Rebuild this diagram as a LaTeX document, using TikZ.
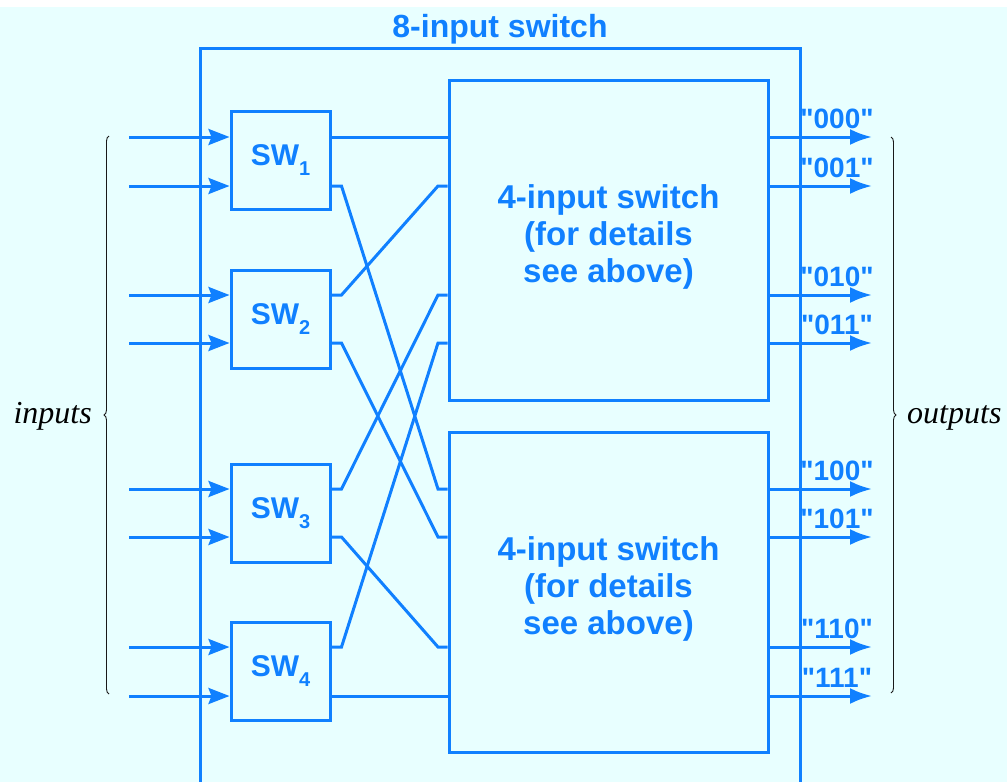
\documentclass[tikz,border=0pt]{standalone}
\usepackage{fontspec}
\newfontfamily\lsans{Liberation Sans}
\newfontfamily\lserif{Liberation Serif}
\usetikzlibrary{arrows.meta,decorations.pathreplacing}
\definecolor{sblue}{RGB}{16,128,255}
\definecolor{bgc}{RGB}{232,255,255}
\newcommand\swsub[1]{\raisebox{-10pt}{\fontsize{20}{20}\selectfont #1}}
\begin{document}
\begin{tikzpicture}[x=1pt,y=-1pt,
  wire/.style={draw=sblue, line width=3pt},
  swbox/.style={draw=sblue, line width=3pt, minimum width=99pt, minimum height=98pt, inner sep=0pt, text=sblue, font=\lsans\bfseries\fontsize{30}{30}\selectfont},
  bigbox/.style={draw=sblue, line width=3pt, minimum width=319pt, minimum height=320pt, inner sep=0pt},
  bigtext/.style={align=center, inner sep=0pt, text=sblue, font=\lsans\bfseries\fontsize{33}{37}\selectfont},
  lbl/.style={text=sblue, anchor=base, inner sep=0pt, font=\lsans\bfseries\fontsize{28}{28}\selectfont},
  ttl/.style={text=sblue, anchor=base, inner sep=0pt, font=\lsans\bfseries\fontsize{32}{32}\selectfont},
  side/.style={inner sep=0pt, font=\lserif\itshape\fontsize{32}{32}\selectfont},
  inarr/.style={wire, -{Stealth[length=21pt,width=16pt,inset=3pt]}},
  outarr/.style={wire, -{Latex[length=22pt,width=16pt]}},
  brc/.style={draw=black!90, line width=0.9pt, decorate, decoration={brace, amplitude=5pt}}
]
\useasboundingbox (0,0) rectangle (1007,782);
\fill[white] (0,0) rectangle (1007,782);
\fill[bgc] (0,7) rectangle (1007,782);

% rows
\coordinate (r1) at (0,137);
\coordinate (r2) at (0,186);
\coordinate (r3) at (0,295);
\coordinate (r4) at (0,343);
\coordinate (r5) at (0,489);
\coordinate (r6) at (0,537);
\coordinate (r7) at (0,647);
\coordinate (r8) at (0,696);

% outer frame
\coordinate (fbl) at (200,784);
\coordinate (ftl) at (200,48);
\coordinate (ftr) at (800,48);
\coordinate (fbr) at (800,784);
\draw[wire] (fbl) -- (ftl) -- (ftr) -- (fbr);
\node[ttl] (title) at (500,37) {8-input switch};

% switches
\node[swbox] (sw1) at (280.5,160) {SW\swsub{1}};
\node[swbox] (sw2) at (280.5,319) {SW\swsub{2}};
\node[swbox] (sw3) at (280.5,513) {SW\swsub{3}};
\node[swbox] (sw4) at (280.5,671) {SW\swsub{4}};

\node[bigbox] (up) at (608.5,240) {};
\node[bigbox] (low) at (608.5,592) {};
\node[bigtext] (upt) at ([yshift=3pt]up.center) {4-input switch\\(for details\\see above)};
\node[bigtext] (lowt) at ([yshift=3pt]low.center) {4-input switch\\(for details\\see above)};

% inputs
\foreach \k/\s in {1/1,2/1,3/2,4/2,5/3,6/3,7/4,8/4}{
  \coordinate (in\k) at ([xshift=129pt]r\k);
  \draw[inarr] (in\k) -- (sw\s.west |- r\k);
}

% outputs
\foreach \k/\b/\t in {1/up/000,2/up/001,3/up/010,4/up/011,5/low/100,6/low/101,7/low/110,8/low/111}{
  \coordinate (out\k) at ([xshift=872pt]r\k);
  \draw[outarr] (\b.east |- r\k) -- (out\k);
  \node[lbl] (lb\k) at ([xshift=837pt,yshift=9pt]r\k) {"\t"};
}

% butterfly wiring
\draw[wire] (sw1.east |- r1) -- (up.west |- r1);
\draw[wire] (sw1.east |- r2) -- ++(10,0) -- ([xshift=438pt]r5) -- (low.west |- r5);
\draw[wire] (sw2.east |- r3) -- ++(10,0) -- ([xshift=438pt]r2) -- (up.west |- r2);
\draw[wire] (sw2.east |- r4) -- ++(10,0) -- ([xshift=438pt]r6) -- (low.west |- r6);
\draw[wire] (sw3.east |- r5) -- ++(10,0) -- ([xshift=438pt]r3) -- (up.west |- r3);
\draw[wire] (sw3.east |- r6) -- ++(10,0) -- ([xshift=438pt]r7) -- (low.west |- r7);
\draw[wire] (sw4.east |- r7) -- ++(10,0) -- ([xshift=438pt]r4) -- (up.west |- r4);
\draw[wire] (sw4.east |- r8) -- (low.west |- r8);

% braces
\coordinate (lbb) at (109,694);
\coordinate (lbt) at (109,136);
\coordinate (rbt) at (891,137);
\coordinate (rbb) at (891,693);
\draw[brc] (lbb) -- (lbt);
\draw[brc] (rbt) -- (rbb);
\node[side, anchor=base east] (inl) at (92,423) {inputs};
\node[side, anchor=base west] (outl) at (907,423) {outputs};
\end{tikzpicture}
\end{document}
